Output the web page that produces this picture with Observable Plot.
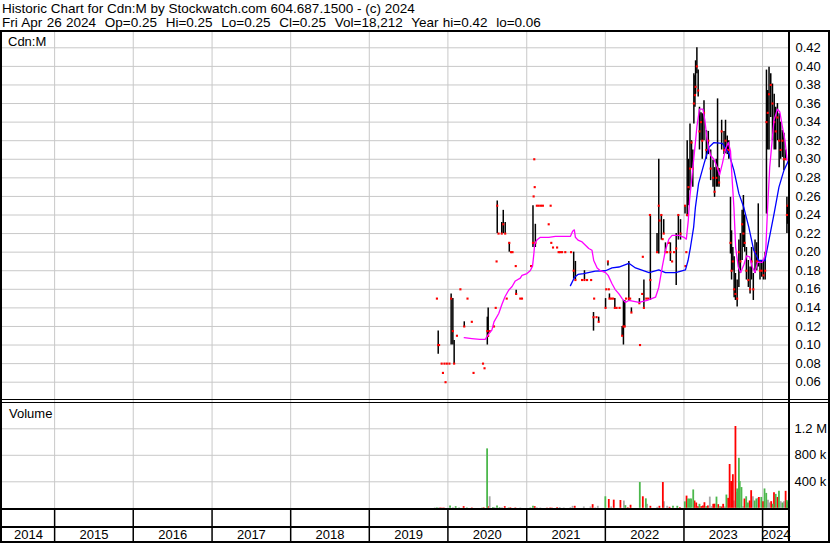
<!DOCTYPE html>
<html>
<head>
<meta charset="utf-8">
<script src="https://cdn.jsdelivr.net/npm/d3@7"></script>
<script src="https://cdn.jsdelivr.net/npm/@observablehq/plot@0.6"></script>
<style>
  html, body { margin: 0; padding: 0; background: #fff; }
  #wrap { position: relative; width: 830px; height: 543px; background: #fff; overflow: hidden;
          font-family: "Liberation Sans", Arial, sans-serif; color: #000; }
  .abs { position: absolute; }
  .ln { position: absolute; background: #000; }
  .lbl { position: absolute; font-size: 13px; line-height: 14px; white-space: pre; }
  .hdr { font-size: 13.5px; }
</style>
</head>
<body>
<div id="wrap">
  <div class="lbl hdr" style="left:2px;top:2px;">Historic Chart for Cdn:M by Stockwatch.com 604.687.1500 - (c) 2024</div>
  <div class="lbl hdr" style="left:2px;top:16px;word-spacing:0.6px;">Fri Apr 26 2024  Op=0.25  Hi=0.25  Lo=0.25  Cl=0.25  Vol=18,212  Year hi=0.42  lo=0.06</div>
  <div id="price" class="abs" style="left:0;top:30px;"></div>
  <div id="vol" class="abs" style="left:0;top:400px;"></div>
  <div id="band" class="abs" style="left:0;top:510px;"></div>
  <div class="lbl" style="left:8px;top:35px;">Cdn:M</div>
  <div class="lbl" style="left:9px;top:407px;">Volume</div>
  <!-- frame lines -->
  <div class="ln" style="left:0;top:30px;width:830px;height:2px;"></div>
  <div class="ln" style="left:0;top:30px;width:2px;height:513px;"></div>
  <div class="ln" style="left:828px;top:30px;width:2px;height:513px;"></div>
  <div class="ln" style="left:788px;top:30px;width:2px;height:513px;"></div>
  <div class="ln" style="left:0;top:399px;width:830px;height:1px;"></div>
  <div class="ln" style="left:0;top:402px;width:830px;height:1px;"></div>
  <div class="ln" style="left:0;top:508px;width:790px;height:2px;"></div>
  <div class="ln" style="left:0;top:526px;width:790px;height:1.5px;"></div>
  <div class="ln" style="left:0;top:541px;width:830px;height:2px;"></div>
</div>
<script>
// ---------------- DATA ----------------
const chartStart = "2014-05-04";
const chartEnd = "2024-05-05";
const yearLabels = ["2014","2015","2016","2017","2018","2019","2020","2021","2022","2023","2024"];
const priceTicks = [0.06,0.08,0.10,0.12,0.14,0.16,0.18,0.20,0.22,0.24,0.26,0.28,0.30,0.32,0.34,0.36,0.38,0.40,0.42];
const volumeTicks = [400000, 800000, 1200000];
const volumeTickLabels = ["400 k", "800 k", "1.2 M"];

// [date, high, low, close]
const priceBars = [
["2019-11-11",.15,.15,.15],["2019-11-17",.115,.09,.10],["2019-11-21",.10,.10,.10],
["2019-12-03",.08,.08,.08],["2019-12-09",.07,.07,.07],["2019-12-16",.08,.08,.08],
["2019-12-21",.06,.06,.06],["2019-12-27",.08,.08,.08],["2020-01-08",.08,.08,.08],
["2020-01-16",.155,.10,.15],["2020-01-24",.15,.10,.115],["2020-01-30",.105,.08,.08],
["2020-02-12",.11,.11,.11],["2020-02-28",.16,.16,.16],["2020-03-17",.125,.119,.12],
["2020-04-01",.15,.15,.15],["2020-04-21",.125,.125,.125],["2020-04-29",.07,.07,.07],
["2020-06-12",.08,.08,.08],["2020-06-19",.075,.075,.075],["2020-07-02",.13,.10,.115],
["2020-07-06",.14,.108,.11],["2020-07-13",.115,.115,.115],["2020-08-02",.12,.12,.12],
["2020-08-10",.14,.14,.14],["2020-08-14",.19,.19,.19],["2020-08-17",.255,.22,.25],
["2020-08-23",.22,.22,.22],["2020-09-07",.232,.22,.22],["2020-09-14",.245,.22,.23],
["2020-09-23",.232,.22,.22],["2020-09-30",.15,.15,.15],["2020-10-12",.21,.20,.21],
["2020-10-20",.20,.20,.20],["2020-10-27",.20,.20,.20],["2020-11-11",.185,.185,.185],
["2020-11-13",.159,.154,.155],["2020-12-02",.15,.15,.15],["2020-12-10",.15,.15,.15],
["2021-01-21",.185,.185,.185],["2021-01-30",.25,.205,.21],["2021-02-02",.26,.26,.26],
["2021-02-05",.30,.30,.30],["2021-02-07",.27,.27,.27],["2021-02-10",.23,.205,.21],
["2021-02-17",.25,.25,.25],["2021-02-26",.25,.25,.25],["2021-03-08",.25,.25,.25],
["2021-03-17",.25,.25,.25],["2021-04-13",.23,.23,.23],["2021-04-22",.25,.25,.25],
["2021-04-25",.21,.21,.21],["2021-05-03",.205,.205,.205],["2021-05-22",.205,.205,.205],
["2021-05-29",.20,.20,.20],["2021-06-05",.20,.20,.20],["2021-06-14",.20,.20,.20],
["2021-06-29",.20,.20,.20],["2021-07-26",.20,.20,.20],["2021-08-07",.20,.171,.18],
["2021-08-15",.19,.17,.17],["2021-09-15",.17,.17,.17],["2021-09-26",.18,.17,.17],
["2021-10-08",.17,.17,.17],["2021-10-27",.17,.17,.17],["2021-11-07",.135,.115,.13],
["2021-11-10",.15,.15,.15],["2021-11-21",.13,.13,.13],["2021-12-01",.13,.125,.125],
["2022-01-02",.15,.14,.14],["2022-01-05",.16,.16,.16],["2022-01-13",.19,.185,.19],
["2022-01-17",.16,.16,.16],["2022-01-20",.155,.15,.15],["2022-01-28",.15,.15,.15],
["2022-02-06",.15,.15,.15],["2022-02-14",.15,.14,.14],["2022-02-22",.14,.14,.14],
["2022-03-08",.14,.14,.14],["2022-03-20",.12,.11,.11],["2022-03-26",.148,.10,.12],
["2022-04-01",.148,.12,.12],["2022-04-07",.15,.15,.15],["2022-04-20",.19,.148,.15],
["2022-04-26",.15,.15,.15],["2022-05-02",.14,.135,.135],["2022-06-08",.15,.145,.145],
["2022-06-11",.10,.10,.10],["2022-06-21",.155,.155,.155],["2022-06-24",.195,.195,.195],
["2022-06-29",.17,.14,.14],["2022-07-10",.15,.15,.15],["2022-07-19",.15,.15,.15],
["2022-07-27",.24,.24,.24],["2022-07-29",.24,.148,.17],["2022-08-29",.22,.20,.20],
["2022-09-06",.30,.198,.25],["2022-09-10",.234,.234,.234],["2022-09-18",.24,.213,.24],
["2022-09-24",.214,.214,.214],["2022-09-29",.235,.22,.22],["2022-10-07",.21,.20,.20],
["2022-10-15",.20,.20,.20],["2022-10-23",.21,.21,.21],["2022-10-30",.21,.19,.20],
["2022-11-07",.19,.19,.19],["2022-11-16",.20,.20,.20],["2022-11-26",.22,.164,.204],
["2022-12-06",.24,.213,.24],["2022-12-16",.235,.213,.22],["2023-01-06",.25,.241,.25],
["2023-01-08",.185,.185,.185],["2023-01-12",.20,.20,.20],["2023-01-16",.32,.238,.24],
["2023-01-22",.30,.25,.27],["2023-01-29",.338,.266,.29],["2023-02-05",.32,.29,.318],
["2023-02-11",.31,.27,.29],["2023-02-16",.392,.338,.36],["2023-02-21",.39,.356,.369],
["2023-02-24",.406,.37,.378],["2023-03-02",.42,.392,.40],["2023-03-08",.396,.367,.374],
["2023-03-14",.356,.31,.33],["2023-03-21",.35,.32,.34],["2023-03-27",.349,.30,.32],
["2023-04-04",.363,.32,.35],["2023-04-15",.331,.30,.31],["2023-04-24",.33,.305,.32],
["2023-05-05",.31,.277,.29],["2023-05-16",.299,.27,.28],["2023-05-23",.291,.259,.265],
["2023-05-31",.30,.27,.28],["2023-06-06",.365,.27,.29],["2023-06-13",.29,.27,.275],
["2023-06-25",.342,.31,.33],["2023-07-06",.33,.305,.31],["2023-07-13",.342,.306,.32],
["2023-07-21",.325,.305,.31],["2023-07-28",.32,.30,.31],["2023-08-05",.259,.198,.21],
["2023-08-10",.223,.17,.18],["2023-08-16",.205,.18,.19],["2023-08-22",.195,.151,.16],
["2023-08-28",.177,.148,.155],["2023-09-05",.17,.141,.15],["2023-09-13",.213,.162,.20],
["2023-09-20",.22,.177,.19],["2023-09-28",.245,.191,.23],["2023-10-04",.261,.205,.22],
["2023-10-10",.24,.20,.21],["2023-10-18",.205,.17,.18],["2023-10-27",.191,.162,.17],
["2023-11-04",.184,.155,.16],["2023-11-11",.205,.17,.19],["2023-11-19",.177,.148,.16],
["2023-11-27",.213,.177,.20],["2023-12-05",.21,.18,.19],["2023-12-12",.252,.184,.19],
["2023-12-20",.19,.17,.18],["2023-12-28",.191,.173,.18],["2024-01-05",.191,.17,.175],
["2024-01-13",.20,.17,.18],["2024-01-19",.396,.241,.34],["2024-01-25",.374,.31,.35],
["2024-01-31",.399,.31,.37],["2024-02-08",.392,.345,.38],["2024-02-16",.381,.32,.36],
["2024-02-24",.37,.31,.34],["2024-03-02",.356,.31,.33],["2024-03-10",.36,.32,.345],
["2024-03-18",.349,.291,.32],["2024-03-25",.34,.30,.31],["2024-04-02",.331,.302,.32],
["2024-04-09",.328,.288,.30],["2024-04-17",.31,.30,.30],["2024-04-23",.259,.22,.24],
["2024-04-26",.25,.23,.25]
];

// short moving average (magenta)
const maShort = [
["2020-03-17",.108],["2020-04-21",.107],["2020-05-28",.106],["2020-06-22",.106],
["2020-07-09",.112],["2020-07-23",.116],["2020-08-02",.125],["2020-08-24",.134],
["2020-09-08",.144],["2020-09-22",.152],["2020-10-09",.159],["2020-10-25",.163],
["2020-11-09",.169],["2020-12-02",.172],["2020-12-10",.175],["2021-01-02",.177],
["2021-01-17",.18],["2021-01-28",.185],["2021-02-03",.198],["2021-02-07",.209],
["2021-02-17",.213],["2021-03-05",.216],["2021-04-13",.216],["2021-05-14",.217],
["2021-07-23",.217],["2021-08-02",.2225],["2021-08-10",.224],["2021-08-15",.216],
["2021-08-27",.213],["2021-09-15",.211],["2021-10-16",.204],["2021-10-31",.202],
["2021-11-08",.191],["2021-11-24",.183],["2021-12-09",.18],["2022-01-02",.178],
["2022-01-14",.175],["2022-02-01",.166],["2022-02-15",.16],["2022-03-05",.155],
["2022-03-20",.15],["2022-04-04",.146],["2022-04-20",.148],["2022-06-06",.146],
["2022-07-14",.148],["2022-08-22",.1515],["2022-09-06",.162],["2022-09-22",.184],
["2022-10-07",.202],["2022-10-23",.214],["2022-11-07",.218],["2022-12-09",.218],
["2023-01-01",.216],["2023-01-12",.214],["2023-01-21",.234],["2023-01-27",.256],
["2023-02-08",.284],["2023-02-21",.313],["2023-03-02",.335],["2023-03-14",.354],
["2023-03-30",.354],["2023-04-08",.342],["2023-04-19",.32],["2023-05-05",.304],
["2023-05-20",.30],["2023-06-05",.291],["2023-06-15",.283],["2023-06-28",.295],
["2023-07-13",.311],["2023-07-26",.318],["2023-08-05",.309],["2023-08-13",.277],
["2023-08-21",.248],["2023-08-29",.205],["2023-09-10",.184],["2023-09-21",.178],
["2023-10-07",.187],["2023-10-19",.196],["2023-11-02",.195],["2023-11-14",.184],
["2023-11-27",.178],["2023-12-08",.189],["2023-12-31",.189],["2024-01-15",.198],
["2024-01-23",.241],["2024-02-03",.291],["2024-02-23",.342],["2024-03-10",.354],
["2024-03-21",.351],["2024-04-02",.335],["2024-04-14",.32],["2024-04-24",.299]
];

// long moving average (blue)
const maLong = [
["2021-07-23",.164],["2021-08-11",.173],["2021-08-27",.176],["2021-09-22",.177],
["2021-11-15",.1795],["2022-01-02",.18],["2022-02-01",.183],["2022-03-05",.184],
["2022-04-20",.188],["2022-05-21",.183],["2022-07-23",.178],["2022-09-06",.181],
["2022-10-07",.178],["2022-11-23",.178],["2023-01-08",.181],["2023-01-20",.191],
["2023-01-31",.205],["2023-02-15",.227],["2023-02-23",.248],["2023-03-10",.274],
["2023-04-04",.295],["2023-04-27",.313],["2023-05-20",.318],["2023-06-28",.317],
["2023-07-29",.306],["2023-08-21",.288],["2023-09-13",.263],["2023-10-06",.248],
["2023-10-29",.227],["2023-11-21",.202],["2023-12-14",.191],["2024-01-12",.191],
["2024-01-27",.209],["2024-02-23",.241],["2024-03-17",.27],["2024-04-09",.288],
["2024-04-29",.298]
];

// [date, volume, direction]
const volumeBars = [
["2019-11-01",6e3,"flat"],["2019-11-11",8e3,"up"],["2019-11-20",6e3,"flat"],
["2019-11-27",6e3,"down"],["2019-12-05",6e3,"down"],["2019-12-13",5e3,"down"],
["2020-01-11",35e3,"up"],["2020-01-24",8e3,"flat"],["2020-02-06",25e3,"up"],
["2020-02-22",5e3,"up"],["2020-03-14",25e3,"down"],["2020-03-29",6e3,"up"],
["2020-04-21",6e3,"down"],["2020-06-07",6e3,"up"],["2020-06-15",8e3,"down"],
["2020-07-01",897e3,"up"],["2020-07-05",25e3,"down"],["2020-07-13",174e3,"flat"],
["2020-07-28",12e3,"up"],["2020-08-05",10e3,"flat"],["2020-08-16",35e3,"up"],
["2020-08-28",10e3,"up"],["2020-09-08",8e3,"flat"],["2020-09-21",25e3,"down"],
["2020-10-09",6e3,"up"],["2020-10-17",8e3,"down"],["2020-11-09",6e3,"down"],
["2020-12-02",6e3,"flat"],["2021-01-18",6e3,"up"],["2021-01-30",30e3,"up"],
["2021-02-07",25e3,"down"],["2021-02-17",8e3,"flat"],["2021-03-05",6e3,"flat"],
["2021-04-05",6e3,"down"],["2021-04-20",6e3,"down"],["2021-04-28",5e3,"down"],
["2021-05-22",10e3,"down"],["2021-06-03",12e3,"flat"],["2021-06-22",6e3,"flat"],
["2021-07-23",10e3,"flat"],["2021-08-02",30e3,"flat"],["2021-08-12",30e3,"down"],
["2021-09-23",20e3,"flat"],["2021-10-24",20e3,"flat"],["2021-11-03",55e3,"down"],
["2021-11-15",6e3,"flat"],["2021-11-27",30e3,"flat"],["2022-01-01",174e3,"up"],
["2022-01-17",133e3,"down"],["2022-01-28",20e3,"flat"],["2022-02-09",123e3,"down"],
["2022-03-12",118e3,"down"],["2022-03-28",110e3,"flat"],["2022-04-04",40e3,"up"],
["2022-04-15",8e3,"down"],["2022-04-28",46e3,"down"],["2022-06-10",389e3,"up"],
["2022-06-24",174e3,"down"],["2022-07-08",143e3,"up"],["2022-07-14",60e3,"flat"],
["2022-07-29",30e3,"down"],["2022-08-30",15e3,"flat"],["2022-09-09",30e3,"down"],
["2022-09-25",389e3,"down"],["2022-09-30",97e3,"flat"],["2022-10-15",30e3,"flat"],
["2022-10-26",15e3,"down"],["2022-11-11",30e3,"up"],["2022-12-01",30e3,"up"],
["2022-12-13",10e3,"down"],["2023-01-05",97e3,"up"],["2023-01-13",184e3,"down"],
["2023-01-20",140e3,"up"],["2023-01-28",140e3,"up"],["2023-02-03",140e3,"up"],
["2023-02-13",277e3,"up"],["2023-02-19",110e3,"down"],["2023-02-27",80e3,"down"],
["2023-03-07",25e3,"down"],["2023-03-14",60e3,"up"],["2023-03-22",25e3,"down"],
["2023-03-30",35e3,"down"],["2023-04-06",84e3,"down"],["2023-04-14",25e3,"up"],
["2023-04-22",35e3,"down"],["2023-05-01",169e3,"flat"],["2023-05-09",25e3,"flat"],
["2023-05-17",60e3,"down"],["2023-05-23",62e3,"down"],["2023-06-01",169e3,"up"],
["2023-06-09",55e3,"down"],["2023-06-17",25e3,"up"],["2023-06-24",20e3,"down"],
["2023-07-02",60e3,"down"],["2023-07-10",20e3,"flat"],["2023-07-17",200e3,"up"],
["2023-07-25",150e3,"down"],["2023-08-01",661e3,"down"],["2023-08-08",405e3,"down"],
["2023-08-16",507e3,"down"],["2023-08-21",110e3,"flat"],["2023-08-28",1235e3,"down"],
["2023-09-02",240e3,"flat"],["2023-09-05",292e3,"up"],["2023-09-13",754e3,"up"],
["2023-09-17",405e3,"up"],["2023-09-25",313e3,"up"],["2023-10-02",25e3,"flat"],
["2023-10-09",140e3,"down"],["2023-10-17",174e3,"up"],["2023-10-25",80e3,"up"],
["2023-11-02",110e3,"down"],["2023-11-09",266e3,"down"],["2023-11-17",174e3,"flat"],
["2023-11-25",110e3,"up"],["2023-12-03",140e3,"up"],["2023-12-10",150e3,"flat"],
["2023-12-15",164e3,"down"],["2023-12-26",164e3,"up"],["2024-01-03",100e3,"down"],
["2024-01-10",292e3,"up"],["2024-01-18",225e3,"up"],["2024-01-26",120e3,"flat"],
["2024-02-02",80e3,"flat"],["2024-02-10",100e3,"down"],["2024-02-18",60e3,"up"],
["2024-02-23",236e3,"down"],["2024-03-02",210e3,"up"],["2024-03-10",164e3,"down"],
["2024-03-17",256e3,"up"],["2024-03-25",100e3,"flat"],["2024-04-02",80e3,"up"],
["2024-04-09",100e3,"flat"],["2024-04-17",256e3,"down"],["2024-04-22",118e3,"up"],
["2024-04-26",97e3,"up"]
];

// ---------------- BUILD ----------------
const parse = d3.utcParse("%Y-%m-%d");
const xDomain = [parse(chartStart), parse(chartEnd)];
const bars = priceBars.map(([d, h, l, c]) => ({date: parse(d), high: h, low: l, close: c}));
const shortLine = maShort.map(([d, v]) => ({date: parse(d), value: v}));
const longLine = maLong.map(([d, v]) => ({date: parse(d), value: v}));
const vols = volumeBars.map(([d, v, dir]) => ({date: parse(d), volume: v, dir}));
const yearStarts = yearLabels.slice(1).map(y => parse(y + "-01-01"));
const yearMids = yearLabels.map(y => {
  const a = Math.max(+parse(y + "-01-01"), +xDomain[0]);
  const b = Math.min(+parse((+y + 1) + "-01-01"), +xDomain[1]);
  return {date: new Date((a + b) / 2), label: y};
});

const GRID = "#c8c8c8";
const xScale = {type: "utc", domain: xDomain, range: [2, 789], axis: null};
const style = {fontFamily: "'Liberation Sans', Arial, sans-serif", fontSize: "13px", color: "#000", background: "transparent", overflow: "visible"};

const price = Plot.plot({
  width: 830, height: 369,
  marginLeft: 2, marginRight: 41, marginTop: 0, marginBottom: 0,
  x: xScale,
  y: {domain: [0.06, 0.42], range: [351.7, 17.3], axis: null},
  style,
  marks: [
    Plot.ruleY(priceTicks, {stroke: GRID, strokeWidth: 1}),
    Plot.ruleX(yearStarts, {stroke: GRID, strokeWidth: 1}),
    Plot.ruleX(bars, {x: "date", y1: "low", y2: "high", stroke: "#000", strokeWidth: 1.5}),
    Plot.dot(bars, {x: "date", y: "close", symbol: "square", r: 1.2, fill: "#ff0000", stroke: null}),
    Plot.line(longLine, {x: "date", y: "value", stroke: "#0000ff", strokeWidth: 1.3, curve: "linear"}),
    Plot.line(shortLine, {x: "date", y: "value", stroke: "#ff00ff", strokeWidth: 1.3, curve: "linear"}),
    Plot.axisY(priceTicks, {anchor: "right", label: null, tickSize: 0, tickPadding: 6, tickFormat: d => d.toFixed(2), fontSize: 13, fill: "#000"})
  ]
});
document.getElementById("price").appendChild(price);

const volFmt = new Map(volumeTicks.map((t, i) => [t, volumeTickLabels[i]]));
const dirColor = {up: "#4cb84c", down: "#ff0000", flat: "#a8a8a8"};
const vol = Plot.plot({
  width: 830, height: 110,
  marginLeft: 2, marginRight: 41, marginTop: 0, marginBottom: 0,
  x: xScale,
  y: {domain: [0, 1200000], range: [107.8, 28.3], axis: null},
  style,
  marks: [
    Plot.ruleY(volumeTicks, {stroke: GRID, strokeWidth: 1}),
    Plot.ruleX(yearStarts, {stroke: GRID, strokeWidth: 1}),
    ...["flat", "down", "up"].map(k =>
      Plot.ruleX(vols.filter(v => v.dir === k), {x: "date", y1: 0, y2: "volume", stroke: dirColor[k], strokeWidth: 1.8})),
    Plot.axisY(volumeTicks, {anchor: "right", label: null, tickSize: 0, tickPadding: 5, tickFormat: d => volFmt.get(d), fontSize: 13, fill: "#000"})
  ]
});
document.getElementById("vol").appendChild(vol);

const band = Plot.plot({
  width: 830, height: 32,
  marginLeft: 2, marginRight: 41, marginTop: 0, marginBottom: 0,
  x: xScale,
  style,
  marks: [
    Plot.ruleX(yearStarts, {stroke: "#000", strokeWidth: 1.5}),
    Plot.text(yearMids, {x: "date", text: "label", frameAnchor: "middle", dy: 8, fontSize: 13, fill: "#000"})
  ]
});
document.getElementById("band").appendChild(band);
</script>
</body>
</html>
